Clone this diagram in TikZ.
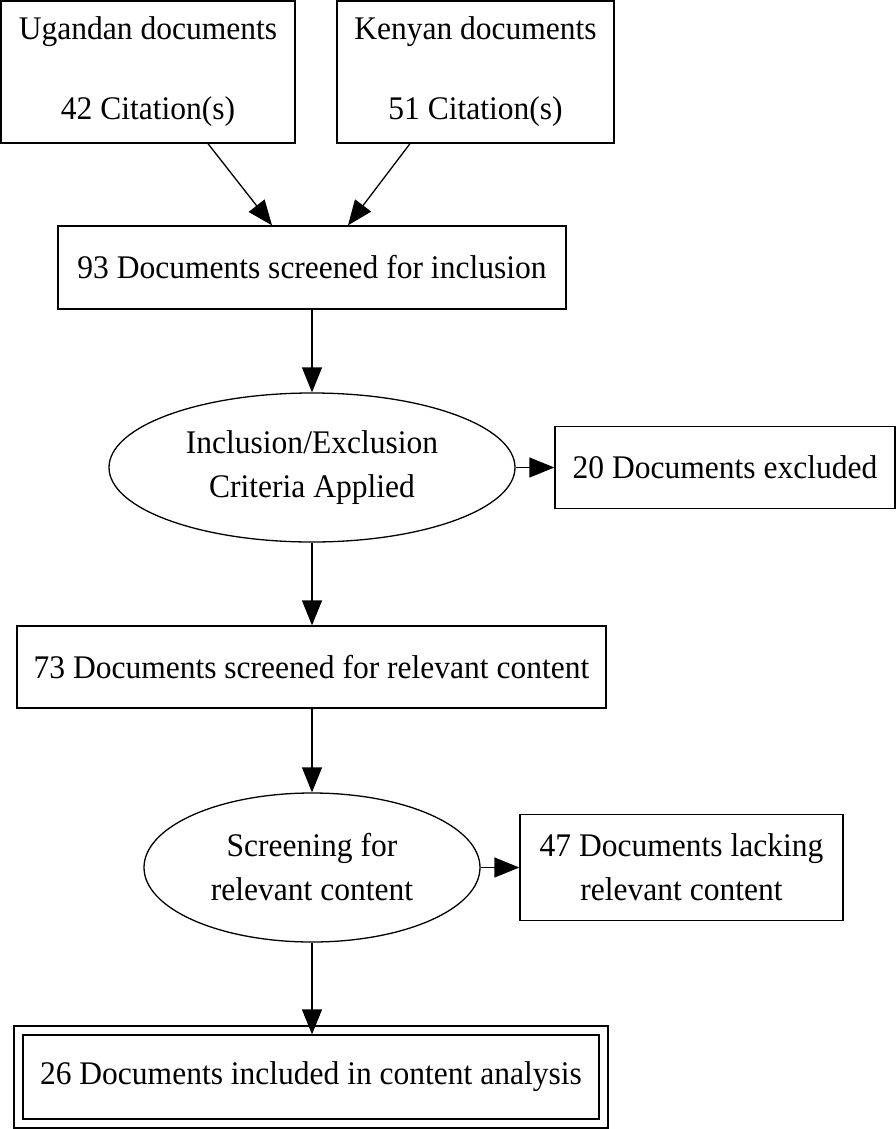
\documentclass[tikz,border=0pt]{standalone}
\usepackage{fontspec}
\setmainfont{Liberation Serif}[FakeStretch=0.955]
\usetikzlibrary{shapes.geometric,arrows.meta}
\begin{document}
\begin{tikzpicture}[x=1pt,y=-1pt,
  every node/.style={font=\fontsize{33}{44}\selectfont, align=center, inner sep=0pt, line width=1.3pt},
  boxnode/.style={draw, rectangle},
  ellnode/.style={draw, ellipse},
  conn/.style={line width=1.3pt, -{Triangle[length=25pt,width=20pt]}}
]
\useasboundingbox (0,0) rectangle (896,1129);
\node[boxnode, minimum width=294pt, minimum height=142pt] (U) at (148,72) {Ugandan documents\\[36pt]42 Citation(s)};
\node[boxnode, minimum width=277pt, minimum height=142pt] (K) at (475.5,72) {Kenyan documents\\[36pt]51 Citation(s)};
\node[boxnode, minimum width=508pt, minimum height=83pt] (S93) at (312,267.5) {93 Documents screened for inclusion};
\node[ellnode, minimum width=406pt, minimum height=149pt] (E1) at (312,467.5) {Inclusion/Exclusion\\Criteria Applied};
\node[boxnode, minimum width=340pt, minimum height=82pt] (X20) at (725,467.5) {20 Documents excluded};
\node[boxnode, minimum width=589pt, minimum height=82pt] (S73) at (311.5,667) {73 Documents screened for relevant content};
\node[ellnode, minimum width=336pt, minimum height=149pt] (E2) at (312,867.5) {Screening for\\relevant content};
\node[boxnode, minimum width=323pt, minimum height=106pt] (L47) at (681.5,867.5) {47 Documents lacking\\relevant content};
\node[boxnode, double, double distance=7.7pt, minimum width=585pt, minimum height=93pt] (F26) at (311,1077) {26 Documents included in content analysis};

\draw[conn] ([xshift=60pt]U.south) -- ([xshift=-40pt]S93.north);
\draw[conn] ([xshift=-65.5pt]K.south) -- ([xshift=36pt]S93.north);
\draw[conn] (S93.south) -- (E1.north);
\draw[conn] (E1.east) -- (X20.west);
\draw[conn] (E1.south) -- (E1.south |- S73.north);
\draw[conn] (E1.south |- S73.south) -- (E2.north);
\draw[conn] (E2.east) -- (L47.west);
\draw[conn] (E2.south) -- ([yshift=-4.5pt]E2.south |- F26.north);
\end{tikzpicture}
\end{document}
